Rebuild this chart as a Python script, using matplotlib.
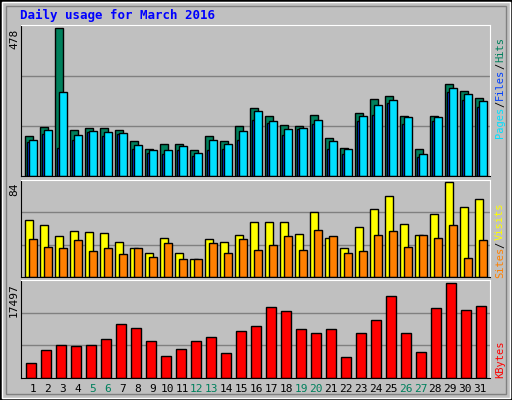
import matplotlib
matplotlib.use("Agg")
import matplotlib.pyplot as plt
from matplotlib.patches import Rectangle

days = list(range(1, 32))
hits = [129,159,478,149,156,156,149,113,87,103,103,84,129,113,162,220,194,165,162,198,123,93,204,250,260,194,87,194,299,274,253]
files = [116,149,273,132,146,142,139,100,84,84,97,77,116,103,146,211,178,152,155,181,113,87,194,230,247,191,71,191,286,266,243]
pages = [110,136,93,119,142,129,136,87,77,74,84,67,84,90,119,181,172,132,152,168,90,71,178,198,237,168,64,178,273,247,224]
visits = [51,46,36,41,40,39,31,26,21,35,21,16,34,31,37,49,49,49,38,58,35,26,44,60,72,47,37,56,84,62,69]
sites = [34,27,26,33,23,26,20,26,18,30,16,16,30,21,34,24,28,36,24,42,36,21,23,37,41,27,37,35,46,17,33]
kbytes = [2746,5045,6003,5811,6003,7152,9834,9068,6769,3895,5236,6769,7535,4470,8685,9451,13091,12325,8876,8302,8876,3704,8302,10601,15007,8302,4662,12900,17497,12516,13283]
weekends = [5,6,12,13,19,20,26,27]

W, H = 512, 400
fig = plt.figure(figsize=(W/100, H/100), dpi=100, facecolor="#C0C0C0")
fig.patches.append(Rectangle((0,0),1,1,transform=fig.transFigure,fill=False,edgecolor="black",lw=2))
fig.patches.append(Rectangle((2/W,2/H),1-4/W,1-4/H,transform=fig.transFigure,fill=False,edgecolor="white",lw=1))
fig.patches.append(Rectangle((6/W,6/H),1-12/W,1-12/H,transform=fig.transFigure,fill=False,edgecolor="#808080",lw=1))

mono = "DejaVu Sans Mono"
fig.text(20/W, 1-15/H, "Daily usage for March 2016", color="#0000FF", family=mono,
         weight="bold", fontsize=9, va="center")

def mkax(y0, y1):
    ax = fig.add_axes([20.7/W, 1-y1/H, (490-20.7)/W, (y1-y0)/H])
    ax.set_facecolor("#C0C0C0")
    ax.set_xlim(20.7, 490)
    ax.set_xticks([]); ax.set_yticks([])
    for s in ax.spines.values():
        s.set_color("black")
    ax.spines["right"].set_color("white"); ax.spines["top"].set_color("white")
    return ax

xs = [25.3 + 15*(d-1) for d in days]
kw = dict(align="edge", edgecolor="black", linewidth=1)

ax1 = mkax(25, 176.5)
ax1.set_ylim(0, 478*1.02)
for f in (1/3, 2/3):
    ax1.axhline(478*1.02*f, color="#808080", lw=1, zorder=0)
ax1.bar(xs, hits, width=7.3, color="#00805C", **kw)
ax1.bar([x+2 for x in xs], pages, width=2.7, color="#0040FF", **kw)
ax1.bar([x+4 for x in xs], files, width=7.3, color="#00E0FF", **kw)

ax2 = mkax(179.5, 277)
ax2.set_ylim(0, 84*1.03)
for f in (1/3, 2/3):
    ax2.axhline(84*1.03*f, color="#808080", lw=1, zorder=0)
ax2.bar(xs, visits, width=8, color="#FFFF00", **kw)
ax2.bar([x+4 for x in xs], sites, width=7.3, color="#FF8000", **kw)

ax3 = mkax(280, 377.5)
ax3.set_ylim(0, 17497*1.03)
for f in (1/3, 2/3):
    ax3.axhline(17497*1.03*f, color="#808080", lw=1, zorder=0)
ax3.bar([x+1 for x in xs], kbytes, width=10, color="#FF0000", **kw)

for d in days:
    c = "#00805C" if d in weekends else "black"
    fig.text((33 + 14.9*(d-1))/W, 1-389/H, str(d), color=c, family=mono, fontsize=8,
             ha="center", va="center")

def vtext(x, y, s, c, va="bottom", fs=8):
    fig.text(x/W, 1-y/H, s, color=c, family=mono, fontsize=fs, rotation=90, ha="center", va=va)

vtext(14, 29, "478", "black", va="top")
vtext(14, 182, "84", "black", va="top")
vtext(14, 283, "17497", "black", va="top")

# right labels (bottom to top)
vtext(500, 138, "Pages", "#00E0FF", fs=7.5)
vtext(500, 107, "/", "black", fs=7.5)
vtext(500, 100, "Files", "#0040FF", fs=7.5)
vtext(500, 69, "/", "black", fs=7.5)
vtext(500, 62, "Hits", "#00805C", fs=7.5)
vtext(500, 278, "Sites", "#FF8000", fs=7.5)
vtext(500, 248, "/", "black", fs=7.5)
vtext(500, 240, "Visits", "#FFFF00", fs=7.5)
vtext(500, 378, "KBytes", "#FF0000", fs=7.5)

fig.savefig("out.png", dpi=100, facecolor=fig.get_facecolor())
